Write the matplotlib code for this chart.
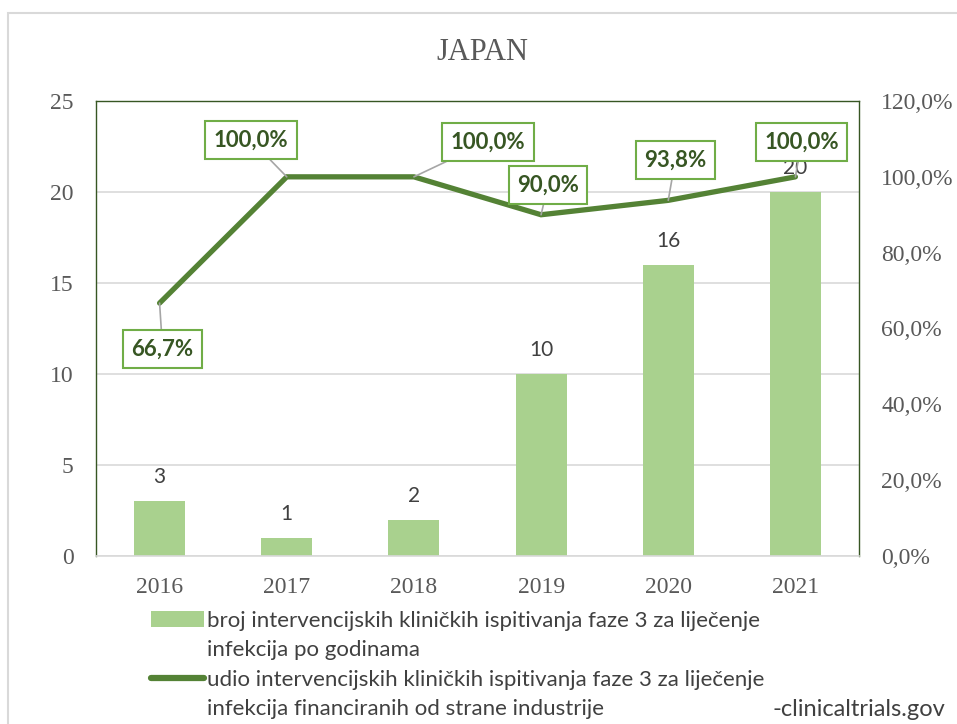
import matplotlib
matplotlib.use("Agg")
import matplotlib.pyplot as plt
from matplotlib.patches import Rectangle, Patch
from matplotlib.lines import Line2D
from matplotlib.ticker import FuncFormatter, MultipleLocator

years = ["2016", "2017", "2018", "2019", "2020", "2021"]
counts = [3, 1, 2, 10, 16, 20]
share = [0.667, 1.0, 1.0, 0.90, 0.938, 1.0]
share_labels = ["66,7%", "100,0%", "100,0%", "90,0%", "93,8%", "100,0%"]
label_offsets = [(3, -46), (-36, 37), (74, 35), (7, 30), (7, 40), (6, 35)]

title = "JAPAN"
bar_legend = ["broj intervencijskih kliničkih ispitivanja faze 3 za liječenje",
              "infekcija po godinama"]
line_legend = ["udio intervencijskih kliničkih ispitivanja faze 3 za liječenje",
               "infekcija financiranih od strane industrije"]
source = "-clinicaltrials.gov"

BAR_C = "#a9d18e"
LINE_C = "#548235"
FRAME_C = "#375623"
TICK_C = "#595959"

fig = plt.figure(figsize=(9.57, 7.24), dpi=100)
fig.patch.set_facecolor("white")

# chart border
fig.add_artist(Rectangle((8 / 957, -0.05), 1.2, 1 - 13 / 724 + 0.05,
                         transform=fig.transFigure, fill=False,
                         edgecolor="#d9d9d9", lw=1.5))

ax = fig.add_axes([96 / 957, 1 - 556 / 724, (859 - 96) / 957, (556 - 101) / 724])
ax2 = ax.twinx()

x = range(len(years))
ax.bar(x, counts, width=0.4, color=BAR_C, zorder=2)
ax.set_xlim(-0.5, len(years) - 0.5)
ax.set_ylim(0, 25)
ax.yaxis.set_major_locator(MultipleLocator(5))
ax.set_xticks(list(x))
ax.set_xticklabels(years)
ax.grid(axis="y", color="#d9d9d9", lw=1.2, zorder=0)
ax.set_axisbelow(True)

serif = "Liberation Serif"
for lab in ax.get_xticklabels() + ax.get_yticklabels():
    lab.set_fontfamily(serif)
    lab.set_fontsize(17)
    lab.set_color(TICK_C)
ax.tick_params(axis="x", length=0, pad=15)
ax.tick_params(axis="y", length=0, pad=16)

for sp in ["top", "left", "right"]:
    ax.spines[sp].set_color(FRAME_C)
    ax.spines[sp].set_linewidth(1.0)
ax.spines["bottom"].set_color("#d9d9d9")
ax.spines["bottom"].set_linewidth(1.2)
for sp in ax2.spines.values():
    sp.set_visible(False)

for xi, c in zip(x, counts):
    ax.annotate(str(c), (xi, c), xytext=(0, 14), textcoords="offset pixels",
                ha="center", va="bottom", fontsize=15, family="Lato",
                color="#404040", zorder=3)

ax2.plot(list(x), share, color=LINE_C, lw=3.8, solid_capstyle="round",
         solid_joinstyle="miter", zorder=4)
ax2.set_ylim(0, 1.2)
ax2.yaxis.set_major_locator(MultipleLocator(0.2))
ax2.yaxis.set_major_formatter(FuncFormatter(lambda v, p: f"{v*100:.1f}%".replace(".", ",")))
ax2.tick_params(axis="y", length=0, pad=16)
for lab in ax2.get_yticklabels():
    lab.set_fontfamily(serif)
    lab.set_fontsize(17)
    lab.set_color(TICK_C)

for xi, v, lab, off in zip(x, share, share_labels, label_offsets):
    ax2.annotate(lab, (xi, v), xytext=off, textcoords="offset pixels",
                 ha="center", va="center", fontsize=16, family="Lato",
                 fontweight="bold", color=FRAME_C, zorder=6,
                 bbox=dict(boxstyle="square,pad=0.38", fc="white",
                           ec="#70ad47", lw=1.5),
                 arrowprops=dict(arrowstyle="-", color="#a6a6a6", lw=1.2,
                                 shrinkA=0, shrinkB=0))

fig.text(482 / 957, 1 - 52 / 724, title, ha="center", va="center",
         family=serif, fontsize=22, color=TICK_C)

empty = Patch(facecolor="none", edgecolor="none")
handles = [Patch(facecolor=BAR_C, edgecolor="none"), empty,
           Line2D([0], [0], color=LINE_C, lw=4.5, solid_capstyle="round"), empty]
labels = [bar_legend[0], bar_legend[1], line_legend[0], line_legend[1]]
leg = fig.legend(handles, labels, loc="upper left",
                 bbox_to_anchor=(151 / 957, 1 - 611 / 724), frameon=False,
                 prop=dict(family="Lato", size=16), handlelength=2.4,
                 handleheight=0.72, handletextpad=0.1, labelspacing=0.42,
                 borderpad=0, borderaxespad=0)
for t in leg.get_texts():
    t.set_color("#404040")

fig.text(945 / 957, 1 - 709 / 724, source, ha="right", va="center",
         family="Lato", fontsize=17, color="#404040")

fig.savefig("out.png", dpi=100, facecolor="white")
